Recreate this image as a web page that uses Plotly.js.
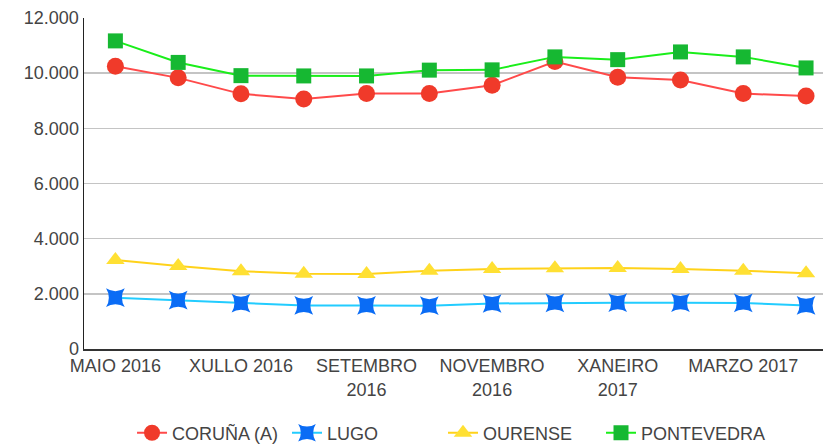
<!DOCTYPE html>
<html>
<head>
<meta charset="utf-8">
<script src="https://cdn.plot.ly/plotly-3.0.1.min.js"></script>
<style>html,body{margin:0;padding:0;background:#fff;}#chart{width:823px;height:446px;}</style>
</head>
<body>
<div id="chart"></div>
<script>
const months = ["MAIO 2016","XUÑO 2016","XULLO 2016","AGOSTO 2016","SETEMBRO 2016","OUTUBRO 2016","NOVEMBRO 2016","DECEMBRO 2016","XANEIRO 2017","FEBREIRO 2017","MARZO 2017","ABRIL 2017"];
const tickMonths = ["MAIO 2016","XULLO 2016","SETEMBRO 2016","NOVEMBRO 2016","XANEIRO 2017","MARZO 2017"];
const tickLabels = ["MAIO 2016","XULLO 2016","SETEMBRO<br>2016","NOVEMBRO<br>2016","XANEIRO<br>2017","MARZO 2017"];
const coruna = [10250,9830,9250,9060,9260,9260,9560,10420,9850,9750,9260,9170];
const lugo = [1860,1770,1660,1580,1580,1570,1650,1670,1680,1680,1670,1580];
const ourense = [3230,3010,2820,2730,2720,2840,2900,2930,2940,2900,2840,2750];
const pontevedra = [11170,10390,9910,9900,9900,10110,10120,10590,10490,10770,10590,10190];

const names = ["CORUÑA (A)","LUGO","OURENSE","PONTEVEDRA"];
const series = [coruna, lugo, ourense, pontevedra];
const lineColors = ["#ff4a4a","#22ccff","#ffd21a","#1aee1a"];
const markerColors = ["#f03a2a","#0a6cf5","#ffe033","#16b832"];
const symbols = ["circle","star-square","triangle-up","square"];
const sizes = [17,17,16,15];
const legendIds = ["legend","legend2","legend3","legend4"];
const legendX = [0.065, 0.2747, 0.4858, 0.6996];

const traces = series.map((s,i)=>({
  type:"scatter", mode:"lines+markers", name:names[i], x:months, y:s,
  legend: legendIds[i],
  line:{color:lineColors[i], width:2},
  marker:{color:markerColors[i], symbol:symbols[i], size:sizes[i], line:{width:0}}
}));

const font = {family:"Liberation Sans, Arial, sans-serif", size:18, color:"#444"};
const layout = {
  width:823, height:446,
  margin:{l:84, r:0, t:18, b:97},
  paper_bgcolor:"#fff", plot_bgcolor:"#fff",
  font: font,
  separators: ",.",
  showlegend:true,
  xaxis:{type:"category", range:[-0.5, 11.27], tickvals:tickMonths, ticktext:tickLabels, tickangle:0,
    showgrid:false, showline:true, linecolor:"#333", linewidth:1.5, ticks:"", tickfont:font, zeroline:false, fixedrange:true},
  yaxis:{range:[0,12000], tickvals:[0,2000,4000,6000,8000,10000,12000], tickformat:",d",
    showgrid:true, gridcolor:"#c4c4c4", gridwidth:1.5, showline:true, linecolor:"#222", linewidth:1.5,
    ticks:"", tickfont:font, zeroline:false, fixedrange:true}
};
legendIds.forEach((id,i)=>{
  layout[id] = {orientation:"h", x:legendX[i], xanchor:"left", xref:"paper", yref:"container", y:0.029, yanchor:"middle", font:font, itemwidth:30, bgcolor:"rgba(0,0,0,0)"};
});
Plotly.newPlot("chart", traces, layout, {displayModeBar:false, staticPlot:true});
</script>
</body>
</html>
